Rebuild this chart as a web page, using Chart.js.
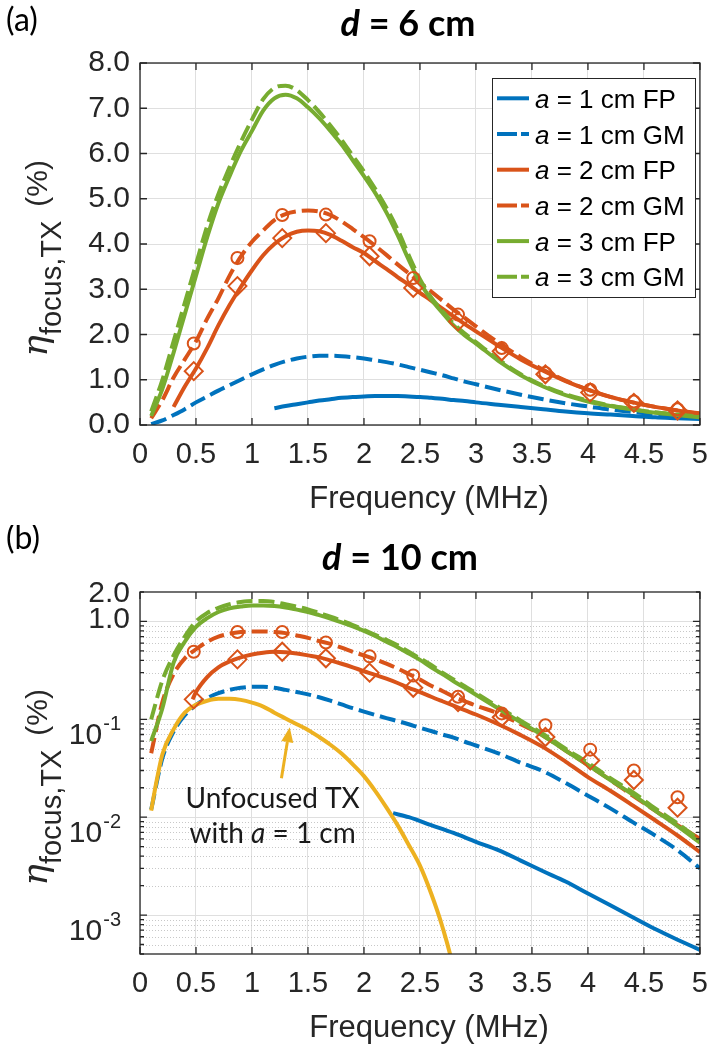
<!DOCTYPE html>
<html>
<head>
<meta charset="utf-8">
<script src="https://cdn.jsdelivr.net/npm/chart.js@4.4.0/dist/chart.umd.min.js"></script>
<style>
  html, body { margin: 0; padding: 0; background: #fff; }
  .panel { position: relative; width: 721px; height: 525px; }
</style>
</head>
<body>
<div class="panel"><canvas id="chart-a" width="721" height="525"></canvas></div>
<div class="panel"><canvas id="chart-b" width="721" height="525"></canvas></div>
<script>
// shared frequency grid (MHz)
const freq = [0.1, 0.2, 0.3, 0.4, 0.5, 0.6, 0.7, 0.8, 0.9, 1.0,
              1.1, 1.2, 1.3, 1.4, 1.5, 1.6, 1.7, 1.8, 1.9, 2.0,
              2.1, 2.2, 2.3, 2.4, 2.5, 2.6, 2.7, 2.8, 2.9, 3.0,
              3.2, 3.4, 3.6, 3.8, 4.0, 4.2, 4.4, 4.6, 4.8, 5.0];
const markerFreq = [0.48, 0.87, 1.27, 1.66, 2.05, 2.44, 2.84, 3.23, 3.62, 4.02, 4.41, 4.80];

const xTicks = [0, 0.5, 1, 1.5, 2, 2.5, 3, 3.5, 4, 4.5, 5];
const xTickLabels = ['0', '0.5', '1', '1.5', '2', '2.5', '3', '3.5', '4', '4.5', '5'];
const yTicksA = [0, 1, 2, 3, 4, 5, 6, 7, 8];
const yTickLabelsA = ['0.0', '1.0', '2.0', '3.0', '4.0', '5.0', '6.0', '7.0', '8.0'];
const yTicksB = [0.001, 0.01, 0.1, 1, 2];
const yTickLabelsB = ['10^-3', '10^-2', '10^-1', '1.0', '2.0'];
const legendLabels = ['1 cm FP', '1 cm GM', '2 cm FP', '2 cm GM', '3 cm FP', '3 cm GM'];

// (a) d = 6 cm, linear %
const blueFpA = [null, null, null, null, null, null, null, null, null, null,
                 null, 0.37, 0.42, 0.46, 0.50, 0.54, 0.57, 0.60, 0.62, 0.63,
                 0.64, 0.64, 0.64, 0.63, 0.62, 0.60, 0.58, 0.55, 0.53, 0.50,
                 0.45, 0.40, 0.35, 0.30, 0.26, 0.23, 0.20, 0.17, 0.15, 0.13];
const blueGmA = [0.02, 0.10, 0.22, 0.35, 0.50, 0.63, 0.76, 0.88, 1.00, 1.12,
                 1.23, 1.33, 1.41, 1.47, 1.51, 1.53, 1.53, 1.52, 1.50, 1.47,
                 1.43, 1.39, 1.34, 1.28, 1.22, 1.16, 1.10, 1.03, 0.96, 0.90,
                 0.78, 0.67, 0.57, 0.48, 0.41, 0.34, 0.29, 0.24, 0.20, 0.17];
const orangeFpA = [null, null, 0.40, 0.85, 1.25, 1.70, 2.20, 2.65, 3.05, 3.42,
                   3.75, 4.00, 4.17, 4.27, 4.30, 4.28, 4.20, 4.07, 3.93, 3.80,
                   3.62, 3.45, 3.27, 3.10, 2.92, 2.75, 2.57, 2.40, 2.23, 2.07,
                   1.75, 1.45, 1.20, 0.97, 0.78, 0.62, 0.50, 0.40, 0.32, 0.25];
const orangeGmA = [0.15, 0.55, 1.05, 1.45, 1.85, 2.35, 2.80, 3.30, 3.72, 4.05,
                   4.30, 4.53, 4.66, 4.72, 4.74, 4.72, 4.64, 4.50, 4.33, 4.15,
                   3.96, 3.76, 3.55, 3.35, 3.15, 2.95, 2.75, 2.55, 2.37, 2.18,
                   1.82, 1.50, 1.22, 0.98, 0.78, 0.62, 0.50, 0.40, 0.32, 0.26];
const greenFpA = [0.20, 0.80, 1.60, 2.45, 3.30, 4.15, 4.90, 5.50, 6.05, 6.50,
                  6.95, 7.22, 7.30, 7.22, 7.02, 6.78, 6.50, 6.20, 5.85, 5.50,
                  5.13, 4.70, 4.20, 3.65, 3.15, 2.78, 2.48, 2.20, 1.98, 1.80,
                  1.42, 1.10, 0.85, 0.66, 0.52, 0.42, 0.34, 0.27, 0.22, 0.17];
const greenGmA = [0.30, 1.00, 1.85, 2.70, 3.55, 4.40, 5.10, 5.70, 6.25, 6.75,
                  7.20, 7.45, 7.50, 7.40, 7.18, 6.92, 6.62, 6.30, 5.95, 5.60,
                  5.22, 4.80, 4.32, 3.75, 3.22, 2.82, 2.52, 2.24, 2.02, 1.83,
                  1.45, 1.12, 0.87, 0.68, 0.54, 0.43, 0.35, 0.28, 0.23, 0.18];
const circleA = [1.80, 3.69, 4.64, 4.65, 4.06, 3.25, 2.44, 1.70, 1.15, 0.78, 0.52, 0.35];
const diamondA = [1.19, 3.07, 4.13, 4.24, 3.73, 3.03, 2.29, 1.63, 1.12, 0.72, 0.49, 0.32];

// (b) d = 10 cm, log %
const blueFreqB = [2.26, 2.4, 2.6, 2.8, 3.0, 3.2, 3.4, 3.6, 3.8, 4.0, 4.2, 4.4, 4.6, 4.8, 5.0];
const blueFpB = [0.011, 0.0100, 0.0083, 0.0069, 0.0056, 0.0046, 0.0036, 0.0028,
                 0.0022, 0.00166, 0.00126, 0.00095, 0.00072, 0.00056, 0.00044];
const blueGmB = [0.012, 0.040, 0.075, 0.110, 0.140, 0.165, 0.185, 0.200, 0.210, 0.215,
                 0.215, 0.210, 0.200, 0.190, 0.180, 0.168, 0.155, 0.142, 0.130, 0.120,
                 0.111, 0.103, 0.096, 0.089, 0.082, 0.076, 0.070, 0.065, 0.059, 0.054,
                 0.045, 0.036, 0.0295, 0.0224, 0.0166, 0.0123, 0.0089, 0.0065, 0.0046, 0.0030];
const orangeFreqB = [0.47, 0.5, 0.6, 0.7, 0.8, 0.9, 1.0, 1.1, 1.2, 1.3, 1.4, 1.5, 1.6, 1.7, 1.8, 1.9, 2.0,
                     2.1, 2.2, 2.3, 2.4, 2.5, 2.6, 2.7, 2.8, 2.9, 3.0,
                     3.2, 3.4, 3.6, 3.8, 4.0, 4.2, 4.4, 4.6, 4.8, 5.0];
const orangeFpB = [0.16, 0.19, 0.27, 0.34, 0.39, 0.43, 0.46,
                   0.48, 0.49, 0.485, 0.47, 0.45, 0.43, 0.40, 0.37, 0.34, 0.31,
                   0.285, 0.26, 0.235, 0.21, 0.19, 0.17, 0.153, 0.138, 0.124, 0.112,
                   0.089, 0.069, 0.052, 0.037, 0.0257, 0.0186, 0.0132, 0.0093, 0.0065, 0.0044];
const orangeGmB = [0.045, 0.15, 0.29, 0.42, 0.52, 0.62, 0.70, 0.75, 0.78, 0.79,
                   0.79, 0.78, 0.76, 0.72, 0.68, 0.63, 0.59, 0.54, 0.49, 0.45,
                   0.41, 0.37, 0.33, 0.29, 0.255, 0.22, 0.195, 0.17, 0.153, 0.138,
                   0.115, 0.089, 0.068, 0.048, 0.034, 0.024, 0.0166, 0.0117, 0.0083, 0.0060];
const greenFpB = [0.06, 0.13, 0.38, 0.62, 0.88, 1.08, 1.25, 1.36, 1.42, 1.46,
                  1.46, 1.44, 1.39, 1.32, 1.25, 1.16, 1.07, 0.98, 0.89, 0.80,
                  0.71, 0.62, 0.545, 0.47, 0.405, 0.34, 0.29, 0.245, 0.21, 0.178,
                  0.129, 0.093, 0.068, 0.048, 0.034, 0.024, 0.017, 0.0117, 0.0081, 0.0055];
const greenGmB = [0.10, 0.25, 0.45, 0.70, 1.00, 1.22, 1.38, 1.50, 1.58, 1.62,
                  1.62, 1.58, 1.50, 1.42, 1.33, 1.22, 1.12, 1.02, 0.92, 0.82,
                  0.73, 0.65, 0.57, 0.49, 0.42, 0.36, 0.30, 0.255, 0.218, 0.185,
                  0.134, 0.097, 0.071, 0.050, 0.036, 0.025, 0.018, 0.0123, 0.0086, 0.0058];
const yellowFreq = [0.1, 0.15, 0.2, 0.3, 0.4, 0.5, 0.6, 0.7, 0.8, 0.9, 1.0, 1.1, 1.2, 1.3, 1.4, 1.5,
                    1.6, 1.7, 1.8, 1.9, 2.0, 2.1, 2.2, 2.3, 2.4, 2.5, 2.6, 2.7, 2.8, 2.9];
const yellowB = [0.0117, 0.024, 0.044, 0.079, 0.117, 0.141, 0.155, 0.162, 0.162, 0.158, 0.148,
                 0.135, 0.117, 0.102, 0.089, 0.078, 0.066, 0.055, 0.0447, 0.0347, 0.0263, 0.0186,
                 0.0126, 0.0083, 0.0052, 0.0032, 0.00166, 0.00076, 0.00028, 0.00006];
const circleB = [0.49, 0.78, 0.78, 0.61, 0.44, 0.28, 0.17, 0.115, 0.087, 0.049, 0.030, 0.016];
const diamondB = [0.16, 0.41, 0.49, 0.42, 0.30, 0.21, 0.15, 0.105, 0.066, 0.038, 0.024, 0.0125];

const BLUE = '#0072BD', ORANGE = '#D95319', YELLOW = '#EDB120', GREEN = '#77AC30';
const INK = '#262626', GRID = '#dfdfdf';
const SANS = "'Liberation Sans', Arial, sans-serif";
const HAND = "Lato, 'Open Sans', sans-serif";

const pts = (xs, ys) => xs.map((x, i) => ({ x: x, y: ys[i] }));

function curve(xs, ys, color, dashed) {
    return {
        data: pts(xs, ys),
        borderColor: color,
        borderWidth: 4,
        borderDash: dashed ? [16, 6] : [],
        pointRadius: 0,
        cubicInterpolationMode: 'monotone',
        fill: false
    };
}

function marks(xs, ys, style, r) {
    return {
        data: pts(xs, ys),
        showLine: false,
        pointStyle: style,
        pointRadius: r,
        pointBorderWidth: 2,
        pointBorderColor: ORANGE,
        pointBackgroundColor: 'rgba(0,0,0,0)'
    };
}

// draw runs of text with different fonts, one after another
function drawRuns(ctx, runs, x, y, align) {
    let w = 0;
    runs.forEach(r => { ctx.font = r.font; r.w = ctx.measureText(r.text).width + (r.gap || 0); w += r.w; });
    let cx = align === 'center' ? x - w / 2 : align === 'right' ? x - w : x;
    ctx.textAlign = 'left';
    ctx.textBaseline = 'alphabetic';
    runs.forEach(r => { ctx.font = r.font; ctx.fillText(r.text, cx + (r.gap || 0), y + (r.dy || 0)); cx += r.w; });
    return w;
}

function drawLegend(ctx, curves) {
    const box = { l: 492, t: 78, r: 695, b: 297 };
    ctx.fillStyle = '#fff';
    ctx.fillRect(box.l, box.t, box.r - box.l, box.b - box.t);
    ctx.strokeStyle = INK;
    ctx.lineWidth = 1;
    ctx.setLineDash([]);
    ctx.strokeRect(box.l + 0.5, box.t + 0.5, box.r - box.l, box.b - box.t);
    curves.forEach((c, i) => {
        const cy = 98.3 + i * 35.7;
        ctx.strokeStyle = c.borderColor;
        ctx.lineWidth = 4;
        ctx.setLineDash(c.borderDash.length ? [20, 4] : []);
        ctx.beginPath();
        ctx.moveTo(497, cy);
        ctx.lineTo(529, cy);
        ctx.stroke();
        ctx.setLineDash([]);
        ctx.fillStyle = '#000';
        drawRuns(ctx, [
            { text: 'a', font: 'italic 26px ' + SANS },
            { text: ' = ' + legendLabels[i], font: '26px ' + SANS }
        ], 535, cy + 9.5, 'left');
    });
}

function makeDecor(cfg) {
    return {
        id: 'decor',
        beforeDatasetsDraw(chart) {
            if (!cfg.log) return;
            const { ctx, chartArea: a, scales: { y } } = chart;
            ctx.save();
            ctx.strokeStyle = '#c8c8c8';
            ctx.lineWidth = 1;
            ctx.setLineDash([1, 2]);
            for (let e = -4; e <= 0; e++) {
                for (let k = 2; k <= 9; k++) {
                    const v = k * Math.pow(10, e);
                    if (v <= y.min || v >= y.max) continue;
                    const py = Math.round(y.getPixelForValue(v)) + 0.5;
                    ctx.beginPath();
                    ctx.moveTo(a.left, py);
                    ctx.lineTo(a.right, py);
                    ctx.stroke();
                }
            }
            ctx.restore();
        },
        afterDatasetsDraw(chart) {
            const { ctx, chartArea: a, scales: { x, y } } = chart;
            ctx.save();
            ctx.strokeStyle = INK;
            ctx.lineWidth = 1.3;
            ctx.setLineDash([]);
            ctx.strokeRect(a.left, a.top, a.right - a.left, a.bottom - a.top);
            ctx.beginPath();
            xTicks.forEach(v => {
                const px = x.getPixelForValue(v);
                ctx.moveTo(px, a.bottom); ctx.lineTo(px, a.bottom - 7);
                ctx.moveTo(px, a.top); ctx.lineTo(px, a.top + 7);
            });
            const ytick = (v, len) => {
                const py = y.getPixelForValue(v);
                ctx.moveTo(a.left, py); ctx.lineTo(a.left + len, py);
                ctx.moveTo(a.right, py); ctx.lineTo(a.right - len, py);
            };
            if (cfg.log) {
                for (let e = -4; e <= 0; e++) {
                    for (let k = 1; k <= 9; k++) {
                        const v = k * Math.pow(10, e);
                        if (v < y.min || v > y.max) continue;
                        ytick(v, k === 1 ? 7 : 4);
                    }
                }
            } else {
                yTicksA.forEach(v => ytick(v, 7));
            }
            ctx.stroke();

            if (cfg.legend) drawLegend(ctx, cfg.legend);

            if (cfg.note) {
                // arrow pointing at the unfocused curve
                const x0 = x.getPixelForValue(1.263), y0 = y.getPixelForValue(0.025);
                const x1 = x.getPixelForValue(1.337), y1 = y.getPixelForValue(0.083);
                const ang = Math.atan2(y1 - y0, x1 - x0);
                const hl = 15, hw = 6;
                const bx = x1 - hl * Math.cos(ang), by = y1 - hl * Math.sin(ang);
                ctx.strokeStyle = YELLOW;
                ctx.fillStyle = YELLOW;
                ctx.lineWidth = 3;
                ctx.beginPath();
                ctx.moveTo(x0, y0);
                ctx.lineTo(bx, by);
                ctx.stroke();
                ctx.beginPath();
                ctx.moveTo(x1, y1);
                ctx.lineTo(bx + hw * Math.sin(ang), by - hw * Math.cos(ang));
                ctx.lineTo(bx - hw * Math.sin(ang), by + hw * Math.cos(ang));
                ctx.closePath();
                ctx.fill();
                ctx.fillStyle = '#1a1a1a';
                const tx = x.getPixelForValue(1.184);
                drawRuns(ctx, [{ text: 'Unfocused TX', font: '28px ' + HAND }],
                    tx, y.getPixelForValue(0.0124), 'center');
                drawRuns(ctx, [
                    { text: 'with ', font: '28px ' + HAND },
                    { text: 'a', font: 'italic 28px ' + HAND },
                    { text: ' = 1 cm', font: '28px ' + HAND }
                ], tx, y.getPixelForValue(0.0054), 'center');
            }
            ctx.restore();
        },
        afterDraw(chart) {
            const { ctx, chartArea: a, scales: { y } } = chart;
            ctx.save();
            ctx.fillStyle = '#000';
            // panel letter and title
            drawRuns(ctx, [{ text: cfg.letter, font: '32px ' + HAND }], 6, cfg.letterY, 'left');
            drawRuns(ctx, [
                { text: 'd', font: 'italic bold 36px ' + HAND },
                { text: cfg.title, font: 'bold 36px ' + HAND }
            ], cfg.titleX, cfg.titleY, 'center');
            // x axis title
            ctx.fillStyle = INK;
            drawRuns(ctx, [{ text: 'Frequency (MHz)', font: '31px ' + SANS }],
                429, a.bottom + 83, 'center');
            // y axis title, rotated, its end anchored below the top of the plot
            ctx.translate(47, a.top + 97);
            ctx.rotate(-Math.PI / 2);
            drawRuns(ctx, [
                { text: '\u03B7', font: "italic 36px 'DejaVu Serif', serif" },
                { text: 'focus,TX', font: '29px ' + SANS, dy: 14 },
                { text: '(%)', font: '30px ' + SANS, gap: 14 }
            ], 0, 0, 'right');
            ctx.setTransform(1, 0, 0, 1, 0, 0);
            // log tick labels with superscripts
            if (cfg.log) {
                ctx.fillStyle = INK;
                yTicksB.forEach((v, i) => {
                    const py = y.getPixelForValue(v);
                    const lab = yTickLabelsB[i];
                    if (lab.indexOf('^') < 0) {
                        ctx.font = '30px ' + SANS;
                        ctx.textAlign = 'right';
                        ctx.textBaseline = 'middle';
                        ctx.fillText(lab, 130, py + (v === 2 ? 2 : -2));
                    } else {
                        const parts = lab.split('^');
                        ctx.font = '20px ' + SANS;
                        const ew = ctx.measureText(parts[1]).width;
                        drawRuns(ctx, [{ text: parts[1], font: '20px ' + SANS }], 121, py + 11, 'right');
                        drawRuns(ctx, [{ text: parts[0], font: '30px ' + SANS }], 121 - ew - 1, py + 25, 'right');
                    }
                });
            }
            ctx.restore();
        }
    };
}

function baseOptions(pad) {
    return {
        responsive: false,
        animation: false,
        events: [],
        layout: { padding: pad },
        plugins: { legend: { display: false }, tooltip: { enabled: false } },
        scales: {
            x: {
                type: 'linear',
                min: 0,
                max: 5,
                afterFit: s => { s.height = 60; },
                afterBuildTicks: s => { s.ticks = xTicks.map(v => ({ value: v })); },
                grid: { color: GRID, drawTicks: false },
                border: { display: false },
                ticks: {
                    autoSkip: false,
                    maxRotation: 0,
                    padding: 13,
                    color: INK,
                    font: { family: SANS, size: 29 },
                    callback: (v, i) => xTickLabels[i]
                }
            }
        }
    };
}

// panel (a)
const curvesA = [
    curve(freq, blueFpA, BLUE, false),
    curve(freq, blueGmA, BLUE, true),
    curve(freq, orangeFpA, ORANGE, false),
    curve(freq, orangeGmA, ORANGE, true),
    curve(freq, greenFpA, GREEN, false),
    curve(freq, greenGmA, GREEN, true)
];
const optsA = baseOptions({ top: 63, right: 9, bottom: 40, left: 0 });
optsA.scales.y = {
    min: 0,
    max: 8,
    afterFit: s => { s.width = 140; },
    afterBuildTicks: s => { s.ticks = yTicksA.map(v => ({ value: v })); },
    grid: { color: GRID, drawTicks: false },
    border: { display: false },
    ticks: {
        padding: 10,
        color: INK,
        font: { family: SANS, size: 30 },
        callback: (v, i) => yTickLabelsA[i]
    }
};
new Chart(document.getElementById('chart-a'), {
    type: 'line',
    data: {
        datasets: [
            marks(markerFreq, circleA, 'circle', 6),
            marks(markerFreq, diamondA, 'rectRot', 9)
        ].concat(curvesA.slice().reverse())
    },
    options: optsA,
    plugins: [makeDecor({
        letter: '(a)', letterY: 31, title: ' = 6 cm', titleX: 408, titleY: 36,
        log: false, legend: curvesA, note: false
    })]
});

// panel (b)
const curvesB = [
    curve(blueFreqB, blueFpB, BLUE, false),
    curve(freq, blueGmB, BLUE, true),
    curve(orangeFreqB, orangeFpB, ORANGE, false),
    curve(freq, orangeGmB, ORANGE, true),
    curve(freq, greenFpB, GREEN, false),
    curve(freq, greenGmB, GREEN, true)
];
const optsB = baseOptions({ top: 67, right: 9, bottom: 36, left: 0 });
optsB.scales.y = {
    type: 'logarithmic',
    min: 0.0004,
    max: 2,
    afterFit: s => { s.width = 140; },
    afterBuildTicks: s => { s.ticks = yTicksB.map(v => ({ value: v })); },
    grid: {
        color: c => (c.tick && c.tick.value === 2 ? 'rgba(0,0,0,0)' : GRID),
        drawTicks: false
    },
    border: { display: false },
    ticks: { display: false }
};
new Chart(document.getElementById('chart-b'), {
    type: 'line',
    data: {
        datasets: [
            marks(markerFreq, circleB, 'circle', 6),
            marks(markerFreq, diamondB, 'rectRot', 9),
            curve(yellowFreq, yellowB, YELLOW, false)
        ].concat(curvesB.slice().reverse())
    },
    options: optsB,
    plugins: [makeDecor({
        letter: '(b)', letterY: 24, title: ' = 10 cm', titleX: 400, titleY: 45,
        log: true, legend: null, note: true
    })]
});
</script>
</body>
</html>
